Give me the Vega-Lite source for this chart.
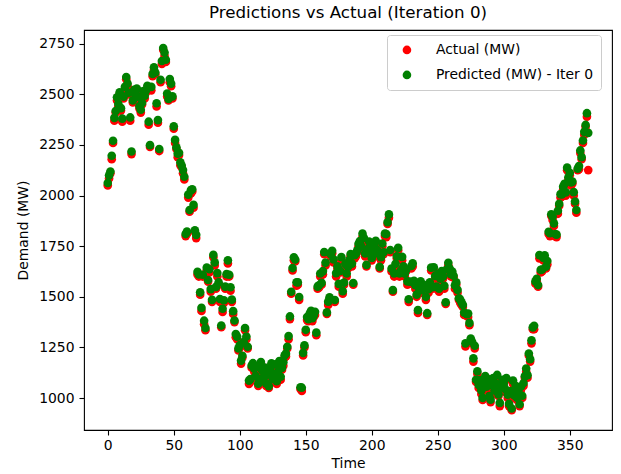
{
  "$schema": "https://vega.github.io/schema/vega-lite/v6.json",
  "width": 528,
  "height": 400,
  "autosize": {"type": "none"},
  "padding": {"left": 84, "top": 30, "right": 9, "bottom": 44},
  "title": {"text": "Predictions vs Actual (Iteration 0)", "fontSize": 16.7, "fontWeight": "normal", "font": "DejaVu Sans", "color": "black", "frame": "group", "anchor": "middle", "offset": 8},
  "config": {
    "font": "DejaVu Sans",
    "view": {"stroke": "black", "strokeWidth": 1.1},
    "axis": {"grid": false, "domain": false, "tickColor": "black", "tickSize": 5, "tickWidth": 1.1, "labelFontSize": 13.9, "labelColor": "black", "labelFont": "DejaVu Sans", "titleFont": "DejaVu Sans", "titleFontSize": 13.9, "titleFontWeight": "normal", "titleColor": "black"}
  },
  "data": {"values": [
{"t":0,"a":2050,"p":2062},{"t":1,"a":2085,"p":2100},{"t":2,"a":2110,"p":2119},{"t":3,"a":2180,"p":2197},{"t":4,"a":2260,"p":2271},{"t":5,"a":2370,"p":2384},{"t":6,"a":2410,"p":2418},
{"t":7,"a":2470,"p":2486},{"t":8,"a":2440,"p":2453},{"t":9,"a":2500,"p":2510},{"t":10,"a":2420,"p":2432},{"t":11,"a":2365,"p":2380},{"t":12,"a":2480,"p":2489},{"t":13,"a":2520,"p":2537},
{"t":14,"a":2575,"p":2586},{"t":15,"a":2540,"p":2554},{"t":16,"a":2500,"p":2508},{"t":17,"a":2370,"p":2386},{"t":18,"a":2205,"p":2218},{"t":19,"a":2460,"p":2470},{"t":20,"a":2510,"p":2522},
{"t":21,"a":2490,"p":2505},{"t":22,"a":2520,"p":2529},{"t":23,"a":2470,"p":2487},{"t":24,"a":2430,"p":2441},{"t":25,"a":2410,"p":2424},{"t":26,"a":2450,"p":2458},{"t":27,"a":2500,"p":2516},
{"t":28,"a":2480,"p":2493},{"t":29,"a":2510,"p":2520},{"t":30,"a":2530,"p":2542},{"t":31,"a":2350,"p":2365},{"t":32,"a":2240,"p":2249},{"t":33,"a":2520,"p":2537},{"t":34,"a":2590,"p":2601},
{"t":35,"a":2620,"p":2634},{"t":36,"a":2600,"p":2608},{"t":37,"a":2440,"p":2456},{"t":38,"a":2360,"p":2373},{"t":39,"a":2220,"p":2230},{"t":40,"a":2560,"p":2572},{"t":41,"a":2650,"p":2665},
{"t":42,"a":2720,"p":2729},{"t":43,"a":2690,"p":2707},{"t":44,"a":2660,"p":2671},{"t":45,"a":2490,"p":2504},{"t":46,"a":2470,"p":2478},{"t":47,"a":2560,"p":2576},{"t":48,"a":2540,"p":2553},
{"t":49,"a":2480,"p":2490},{"t":50,"a":2330,"p":2342},{"t":51,"a":2260,"p":2275},{"t":52,"a":2230,"p":2239},{"t":53,"a":2190,"p":2207},{"t":54,"a":2200,"p":2211},{"t":55,"a":2150,"p":2164},
{"t":56,"a":2140,"p":2148},{"t":57,"a":2110,"p":2126},{"t":58,"a":2080,"p":2093},{"t":59,"a":1800,"p":1810},{"t":60,"a":1810,"p":1822},{"t":61,"a":1990,"p":2005},{"t":62,"a":1920,"p":1929},
{"t":63,"a":2010,"p":2027},{"t":64,"a":2020,"p":2031},{"t":65,"a":1940,"p":1954},{"t":66,"a":1820,"p":1828},{"t":67,"a":1790,"p":1806},{"t":68,"a":1610,"p":1623},{"t":69,"a":1600,"p":1610},
{"t":70,"a":1510,"p":1522},{"t":71,"a":1430,"p":1445},{"t":72,"a":1600,"p":1609},{"t":73,"a":1365,"p":1382},{"t":74,"a":1335,"p":1346},{"t":75,"a":1630,"p":1644},{"t":76,"a":1575,"p":1583},
{"t":77,"a":1620,"p":1636},{"t":78,"a":1525,"p":1538},{"t":79,"a":1475,"p":1485},{"t":80,"a":1695,"p":1707},{"t":81,"a":1655,"p":1670},{"t":82,"a":1540,"p":1549},{"t":83,"a":1600,"p":1617},
{"t":84,"a":1560,"p":1571},{"t":85,"a":1475,"p":1489},{"t":86,"a":1350,"p":1358},{"t":87,"a":1425,"p":1441},{"t":88,"a":1470,"p":1483},{"t":89,"a":1540,"p":1550},{"t":90,"a":1600,"p":1612},
{"t":91,"a":1665,"p":1680},{"t":92,"a":1600,"p":1609},{"t":93,"a":1530,"p":1547},{"t":94,"a":1475,"p":1486},{"t":95,"a":1415,"p":1429},{"t":96,"a":1375,"p":1383},{"t":97,"a":1300,"p":1316},
{"t":98,"a":1290,"p":1303},{"t":99,"a":1235,"p":1245},{"t":100,"a":1250,"p":1262},{"t":101,"a":1170,"p":1185},{"t":102,"a":1200,"p":1209},{"t":103,"a":1260,"p":1277},{"t":104,"a":1335,"p":1346},
{"t":105,"a":1290,"p":1304},{"t":106,"a":1245,"p":1253},{"t":107,"a":1070,"p":1086},{"t":108,"a":1080,"p":1093},{"t":109,"a":1150,"p":1160},{"t":110,"a":1160,"p":1172},{"t":111,"a":1130,"p":1145},
{"t":112,"a":1100,"p":1109},{"t":113,"a":1140,"p":1157},{"t":114,"a":1060,"p":1071},{"t":115,"a":1080,"p":1094},{"t":116,"a":1170,"p":1178},{"t":117,"a":1120,"p":1136},{"t":118,"a":1090,"p":1103},
{"t":119,"a":1140,"p":1150},{"t":120,"a":1060,"p":1072},{"t":121,"a":1100,"p":1115},{"t":122,"a":1050,"p":1059},{"t":123,"a":1130,"p":1147},{"t":124,"a":1160,"p":1171},{"t":125,"a":1080,"p":1094},
{"t":126,"a":1110,"p":1118},{"t":127,"a":1150,"p":1166},{"t":128,"a":1070,"p":1083},{"t":129,"a":1120,"p":1130},{"t":130,"a":1170,"p":1182},{"t":131,"a":1090,"p":1105},{"t":132,"a":1140,"p":1149},
{"t":133,"a":1160,"p":1177},{"t":134,"a":1200,"p":1211},{"t":135,"a":1205,"p":1219},{"t":136,"a":1245,"p":1253},{"t":137,"a":1290,"p":1306},{"t":138,"a":1390,"p":1403},{"t":139,"a":1515,"p":1525},
{"t":140,"a":1630,"p":1642},{"t":141,"a":1680,"p":1695},{"t":142,"a":1675,"p":1684},{"t":143,"a":1555,"p":1572},{"t":144,"a":1560,"p":1571},{"t":145,"a":1485,"p":1499},{"t":146,"a":1045,"p":1053},
{"t":147,"a":1035,"p":1051},{"t":148,"a":1210,"p":1223},{"t":149,"a":1250,"p":1260},{"t":150,"a":1325,"p":1337},{"t":151,"a":1385,"p":1400},{"t":152,"a":1380,"p":1389},{"t":153,"a":1400,"p":1417},
{"t":154,"a":1420,"p":1431},{"t":155,"a":1380,"p":1394},{"t":156,"a":1400,"p":1408},{"t":157,"a":1410,"p":1426},{"t":158,"a":1310,"p":1323},{"t":159,"a":1540,"p":1550},{"t":160,"a":1545,"p":1557},
{"t":161,"a":1600,"p":1615},{"t":162,"a":1560,"p":1569},{"t":163,"a":1610,"p":1627},{"t":164,"a":1710,"p":1721},{"t":165,"a":1655,"p":1669},{"t":166,"a":1415,"p":1423},{"t":167,"a":1460,"p":1476},
{"t":168,"a":1485,"p":1498},{"t":169,"a":1700,"p":1710},{"t":170,"a":1715,"p":1727},{"t":171,"a":1670,"p":1685},{"t":172,"a":1475,"p":1484},{"t":173,"a":1600,"p":1617},{"t":174,"a":1640,"p":1651},
{"t":175,"a":1550,"p":1564},{"t":176,"a":1620,"p":1628},{"t":177,"a":1680,"p":1696},{"t":178,"a":1515,"p":1528},{"t":179,"a":1560,"p":1570},{"t":180,"a":1650,"p":1662},{"t":181,"a":1600,"p":1615},
{"t":182,"a":1640,"p":1649},{"t":183,"a":1665,"p":1682},{"t":184,"a":1700,"p":1711},{"t":185,"a":1650,"p":1664},{"t":186,"a":1560,"p":1568},{"t":187,"a":1690,"p":1706},{"t":188,"a":1700,"p":1713},
{"t":189,"a":1720,"p":1730},{"t":190,"a":1750,"p":1762},{"t":191,"a":1760,"p":1775},{"t":192,"a":1740,"p":1749},{"t":193,"a":1795,"p":1812},{"t":194,"a":1780,"p":1791},{"t":195,"a":1700,"p":1714},
{"t":196,"a":1650,"p":1658},{"t":197,"a":1720,"p":1736},{"t":198,"a":1760,"p":1773},{"t":199,"a":1730,"p":1740},{"t":200,"a":1680,"p":1692},{"t":201,"a":1700,"p":1715},{"t":202,"a":1740,"p":1749},
{"t":203,"a":1760,"p":1777},{"t":204,"a":1720,"p":1731},{"t":205,"a":1700,"p":1714},{"t":206,"a":1640,"p":1648},{"t":207,"a":1680,"p":1696},{"t":208,"a":1750,"p":1763},{"t":209,"a":1710,"p":1720},
{"t":210,"a":1800,"p":1812},{"t":211,"a":1795,"p":1810},{"t":212,"a":1860,"p":1869},{"t":213,"a":1890,"p":1907},{"t":214,"a":1720,"p":1731},{"t":215,"a":1625,"p":1639},{"t":216,"a":1525,"p":1533},
{"t":217,"a":1600,"p":1616},{"t":218,"a":1650,"p":1663},{"t":219,"a":1690,"p":1700},{"t":220,"a":1730,"p":1742},{"t":221,"a":1600,"p":1615},{"t":222,"a":1620,"p":1629},{"t":223,"a":1680,"p":1697},
{"t":224,"a":1640,"p":1651},{"t":225,"a":1600,"p":1614},{"t":226,"a":1625,"p":1633},{"t":227,"a":1560,"p":1576},{"t":228,"a":1475,"p":1488},{"t":229,"a":1565,"p":1575},{"t":230,"a":1640,"p":1652},
{"t":231,"a":1650,"p":1665},{"t":232,"a":1570,"p":1579},{"t":233,"a":1540,"p":1557},{"t":234,"a":1500,"p":1511},{"t":235,"a":1420,"p":1434},{"t":236,"a":1530,"p":1538},{"t":237,"a":1560,"p":1576},
{"t":238,"a":1520,"p":1533},{"t":239,"a":1550,"p":1560},{"t":240,"a":1530,"p":1542},{"t":241,"a":1485,"p":1500},{"t":242,"a":1410,"p":1419},{"t":243,"a":1520,"p":1537},{"t":244,"a":1560,"p":1571},
{"t":245,"a":1630,"p":1644},{"t":246,"a":1540,"p":1548},{"t":247,"a":1630,"p":1646},{"t":248,"a":1590,"p":1603},{"t":249,"a":1540,"p":1550},{"t":250,"a":1600,"p":1612},{"t":251,"a":1525,"p":1540},
{"t":252,"a":1580,"p":1589},{"t":253,"a":1610,"p":1627},{"t":254,"a":1590,"p":1601},{"t":255,"a":1540,"p":1554},{"t":256,"a":1465,"p":1473},{"t":257,"a":1620,"p":1636},{"t":258,"a":1655,"p":1668},
{"t":259,"a":1630,"p":1640},{"t":260,"a":1600,"p":1612},{"t":261,"a":1610,"p":1625},{"t":262,"a":1595,"p":1604},{"t":263,"a":1540,"p":1557},{"t":264,"a":1560,"p":1571},{"t":265,"a":1520,"p":1534},
{"t":266,"a":1485,"p":1493},{"t":267,"a":1470,"p":1486},{"t":268,"a":1460,"p":1473},{"t":269,"a":1450,"p":1460},{"t":270,"a":1410,"p":1422},{"t":271,"a":1255,"p":1270},{"t":272,"a":1405,"p":1414},
{"t":273,"a":1400,"p":1417},{"t":274,"a":1360,"p":1371},{"t":275,"a":1280,"p":1294},{"t":276,"a":1270,"p":1278},{"t":277,"a":1180,"p":1196},{"t":278,"a":1245,"p":1258},{"t":279,"a":1080,"p":1090},
{"t":280,"a":1120,"p":1132},{"t":281,"a":1050,"p":1065},{"t":282,"a":1080,"p":1089},{"t":283,"a":1020,"p":1037},{"t":284,"a":990,"p":1001},{"t":285,"a":1060,"p":1074},{"t":286,"a":1100,"p":1108},
{"t":287,"a":1040,"p":1056},{"t":288,"a":1080,"p":1093},{"t":289,"a":1000,"p":1010},{"t":290,"a":980,"p":992},{"t":291,"a":1050,"p":1065},{"t":292,"a":1090,"p":1099},{"t":293,"a":1020,"p":1037},
{"t":294,"a":1060,"p":1071},{"t":295,"a":1100,"p":1114},{"t":296,"a":1010,"p":1018},{"t":297,"a":960,"p":976},{"t":298,"a":1040,"p":1053},{"t":299,"a":1080,"p":1090},{"t":300,"a":1060,"p":1072},
{"t":301,"a":1030,"p":1045},{"t":302,"a":1090,"p":1099},{"t":303,"a":1000,"p":1017},{"t":304,"a":960,"p":971},{"t":305,"a":1020,"p":1034},{"t":306,"a":940,"p":948},{"t":307,"a":1070,"p":1086},
{"t":308,"a":1000,"p":1013},{"t":309,"a":1050,"p":1060},{"t":310,"a":990,"p":1002},{"t":311,"a":1020,"p":1035},{"t":312,"a":960,"p":969},{"t":313,"a":1040,"p":1057},{"t":314,"a":1000,"p":1011},
{"t":315,"a":1060,"p":1074},{"t":316,"a":1100,"p":1108},{"t":317,"a":1130,"p":1146},{"t":318,"a":1100,"p":1113},{"t":319,"a":1210,"p":1220},{"t":320,"a":1180,"p":1192},{"t":321,"a":1270,"p":1285},
{"t":322,"a":1340,"p":1349},{"t":323,"a":1340,"p":1357},{"t":324,"a":1565,"p":1576},{"t":325,"a":1575,"p":1589},{"t":326,"a":1550,"p":1558},{"t":327,"a":1690,"p":1706},{"t":328,"a":1620,"p":1633},
{"t":329,"a":1625,"p":1635},{"t":330,"a":1680,"p":1692},{"t":331,"a":1690,"p":1705},{"t":332,"a":1640,"p":1649},{"t":333,"a":1660,"p":1677},{"t":334,"a":1810,"p":1821},{"t":335,"a":1800,"p":1814},
{"t":336,"a":1900,"p":1908},{"t":337,"a":1880,"p":1896},{"t":338,"a":1850,"p":1863},{"t":339,"a":1800,"p":1810},{"t":340,"a":1795,"p":1807},{"t":341,"a":1910,"p":1925},{"t":342,"a":1950,"p":1959},
{"t":343,"a":1990,"p":2007},{"t":344,"a":1995,"p":2006},{"t":345,"a":2030,"p":2044},{"t":346,"a":2050,"p":2058},{"t":347,"a":2000,"p":2016},{"t":348,"a":2125,"p":2138},{"t":349,"a":2080,"p":2090},
{"t":350,"a":2100,"p":2112},{"t":351,"a":2050,"p":2065},{"t":352,"a":2060,"p":2069},{"t":353,"a":2000,"p":2017},{"t":354,"a":1960,"p":1971},{"t":355,"a":1915,"p":1929},{"t":356,"a":2125,"p":2133},
{"t":357,"a":2130,"p":2146},{"t":358,"a":2210,"p":2223},{"t":359,"a":2180,"p":2190},{"t":360,"a":2260,"p":2272},{"t":361,"a":2300,"p":2315},{"t":362,"a":2340,"p":2349},{"t":363,"a":2390,"p":2407},
{"t":364,"a":2126,"p":2310}
  ]},
  "layer": [
    {
      "mark": {"type": "circle", "size": 75, "opacity": 1},
      "encoding": {
        "x": {"field": "t", "type": "quantitative", "scale": {"domain": [-18, 382], "nice": false, "zero": false}, "axis": {"title": "Time", "values": [0, 50, 100, 150, 200, 250, 300, 350], "labelPadding": 3, "titlePadding": 5}},
        "y": {"field": "a", "type": "quantitative", "scale": {"domain": [842, 2818], "nice": false, "zero": false}, "axis": {"title": "Demand (MW)", "values": [1000, 1250, 1500, 1750, 2000, 2250, 2500, 2750], "format": "d", "labelPadding": 5, "titlePadding": 8}},
        "color": {"datum": "Actual (MW)", "type": "nominal", "scale": {"domain": ["Actual (MW)", "Predicted (MW) - Iter 0"], "range": ["red", "green"]}, "legend": {"title": null, "orient": "none", "legendX": 303, "legendY": 5, "symbolType": "circle", "symbolSize": 75, "symbolOpacity": 1, "symbolStrokeWidth": 0, "labelFontSize": 13.9, "labelFont": "DejaVu Sans", "labelColor": "black", "padding": 8, "rowPadding": 10, "symbolOffset": 5, "labelOffset": 22, "strokeColor": "#cccccc", "fillColor": "rgba(255,255,255,0.8)", "cornerRadius": 3}}
      }
    },
    {
      "mark": {"type": "circle", "size": 75, "opacity": 1},
      "encoding": {
        "x": {"field": "t", "type": "quantitative"},
        "y": {"field": "p", "type": "quantitative", "axis": {"title": "Demand (MW)", "values": [1000, 1250, 1500, 1750, 2000, 2250, 2500, 2750], "format": "d", "labelPadding": 5, "titlePadding": 8}},
        "color": {"datum": "Predicted (MW) - Iter 0", "type": "nominal"}
      }
    }
  ]
}
